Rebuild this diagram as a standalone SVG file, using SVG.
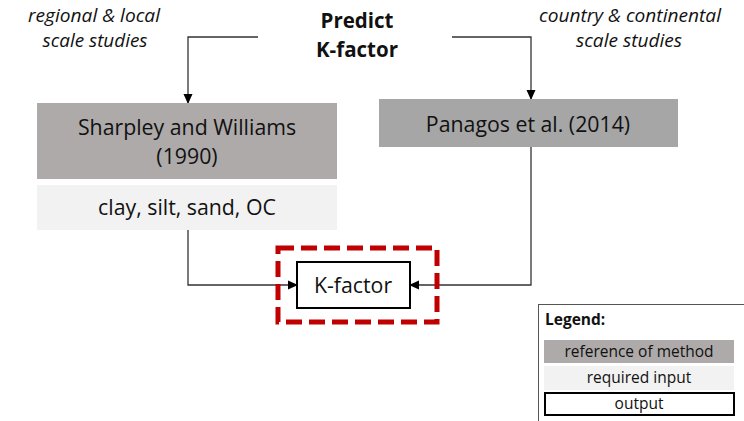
<svg xmlns="http://www.w3.org/2000/svg" width="744" height="421" viewBox="0 0 744 421">
<defs>
<style>
text{font-family:"Open Sans","Liberation Sans",sans-serif;fill:#111;text-anchor:middle}
.it{font-style:italic;font-size:18.5px}
.b{font-weight:bold;font-size:20.5px}
.n{font-size:21.3px}
.l{font-size:15.5px}
.ln{fill:none;stroke:#333;stroke-width:1.3}
</style>
<marker id="ah" markerWidth="10" markerHeight="10" refX="9" refY="5" orient="auto" markerUnits="userSpaceOnUse"><path d="M0,0.5 L10,5 L0,9.5 Z" fill="#000"/></marker>
</defs>
<rect width="744" height="421" fill="#fff"/>
<g id="labels">
<text class="it" x="94" y="22" textLength="132" lengthAdjust="spacingAndGlyphs">regional &amp; local</text>
<text class="it" x="95" y="47" textLength="105" lengthAdjust="spacingAndGlyphs">scale studies</text>
<text class="it" x="630" y="22" textLength="182" lengthAdjust="spacingAndGlyphs">country &amp; continental</text>
<text class="it" x="629" y="47" textLength="106" lengthAdjust="spacingAndGlyphs">scale studies</text>
</g>
<g id="predict">
<text class="b" x="357" y="28">Predict</text>
<text class="b" x="357" y="57">K-factor</text>
</g>
<g id="connectors">
<path class="ln" d="M258,37 H188 V103" marker-end="url(#ah)"/>
<path class="ln" d="M452,37 H531 V99" marker-end="url(#ah)"/>
<path class="ln" d="M188,230 V285 H297" marker-end="url(#ah)"/>
<path class="ln" d="M531,147 V285 H410" marker-end="url(#ah)"/>
</g>
<g id="sharpley">
<rect x="37" y="103" width="300" height="76" fill="#aeaaaa"/>
<text class="n" x="187" y="135">Sharpley and Williams</text>
<text class="n" x="187" y="164">(1990)</text>
</g>
<g id="inputs">
<rect x="37" y="185" width="300" height="45" fill="#f2f2f2"/>
<text class="n" x="187" y="215">clay, silt, sand, OC</text>
</g>
<g id="panagos">
<rect x="379" y="99" width="299" height="48" fill="#a6a6a6"/>
<text class="n" x="528" y="132">Panagos et al. (2014)</text>
</g>
<g id="kfactor">
<rect x="278" y="248" width="159" height="74" fill="none" stroke="#c00000" stroke-width="5" stroke-dasharray="16,7"/>
<rect x="297" y="262" width="113" height="46" fill="#fff" stroke="#000" stroke-width="2"/>
<text class="n" x="353" y="293">K-factor</text>
</g>
<g id="legend">
<rect x="538.5" y="304.5" width="210" height="120" fill="#fff" stroke="#555" stroke-width="1"/>
<text class="l" x="545" y="325" style="font-weight:bold;text-anchor:start">Legend:</text>
<rect x="544" y="340" width="190" height="23" fill="#aeaaaa"/>
<text class="l" x="639" y="357">reference of method</text>
<rect x="544" y="366" width="190" height="24" fill="#f2f2f2"/>
<text class="l" x="639" y="383">required input</text>
<rect x="545" y="393" width="189" height="22" fill="#fff" stroke="#000" stroke-width="2"/>
<text class="l" x="639" y="409">output</text>
</g>
</svg>
